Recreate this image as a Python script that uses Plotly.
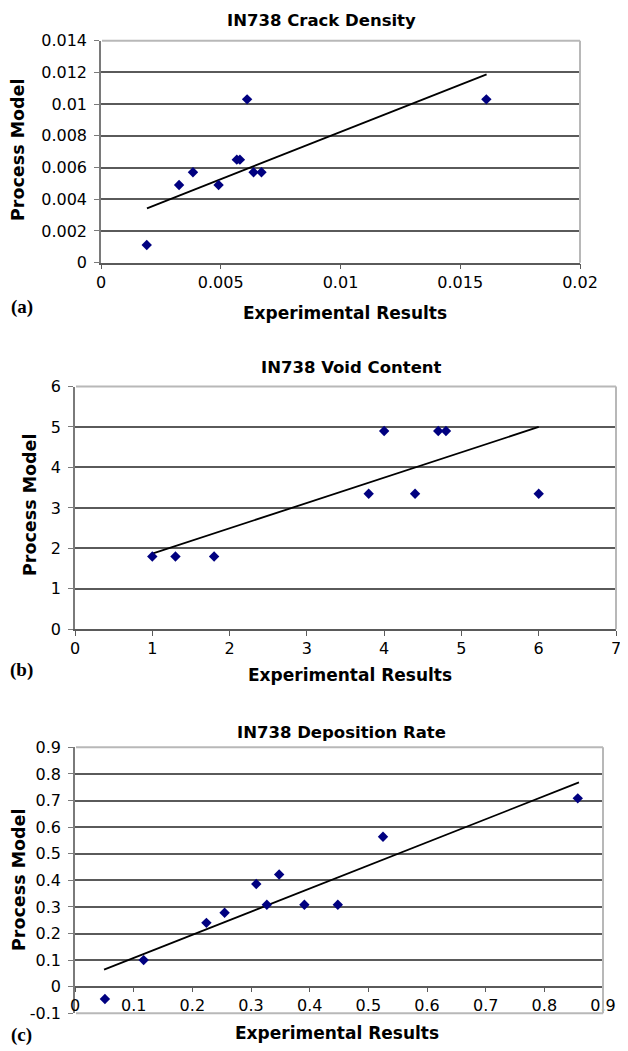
import plotly.graph_objects as go

# ---------------- data ----------------
# (a) IN738 Crack Density
a_exp = [0.00191, 0.00326, 0.00384, 0.00491, 0.00567, 0.0058, 0.0061, 0.00637, 0.0067, 0.01609]
a_model = [0.00112, 0.0049, 0.0057, 0.0049, 0.0065, 0.0065, 0.0103, 0.0057, 0.0057, 0.0103]
a_trend_x = [0.00192, 0.0161]
a_trend_y = [0.00343, 0.01188]
a_xticks = [0, 0.005, 0.01, 0.015, 0.02]
a_xtext = ["0", "0.005", "0.01", "0.015", "0.02"]
a_yticks = [0, 0.002, 0.004, 0.006, 0.008, 0.01, 0.012, 0.014]
a_ytext = ["0", "0.002", "0.004", "0.006", "0.008", "0.01", "0.012", "0.014"]

# (b) IN738 Void Content
b_exp = [1.0, 1.3, 1.8, 3.8, 4.0, 4.4, 4.7, 4.8, 6.0]
b_model = [1.8, 1.8, 1.8, 3.35, 4.9, 3.35, 4.9, 4.9, 3.35]
b_trend_x = [1.0, 6.0]
b_trend_y = [1.87, 5.0]
b_xticks = [0, 1, 2, 3, 4, 5, 6, 7]
b_xtext = ["0", "1", "2", "3", "4", "5", "6", "7"]
b_yticks = [0, 1, 2, 3, 4, 5, 6]
b_ytext = ["0", "1", "2", "3", "4", "5", "6"]

# (c) IN738 Deposition Rate
c_exp = [0.051, 0.117, 0.224, 0.255, 0.309, 0.327, 0.348, 0.391, 0.448, 0.525, 0.857]
c_model = [-0.046, 0.1, 0.24, 0.278, 0.386, 0.308, 0.422, 0.308, 0.308, 0.564, 0.708]
c_trend_x = [0.0495, 0.859]
c_trend_y = [0.064, 0.768]
c_xticks = [0, 0.1, 0.2, 0.3, 0.4, 0.5, 0.6, 0.7, 0.8, 0.9]
c_xtext = ["0", "0.1", "0.2", "0.3", "0.4", "0.5", "0.6", "0.7", "0.8", "0.9"]
c_yticks = [-0.1, 0, 0.1, 0.2, 0.3, 0.4, 0.5, 0.6, 0.7, 0.8, 0.9]
c_ytext = ["-0.1", "0", "0.1", "0.2", "0.3", "0.4", "0.5", "0.6", "0.7", "0.8", "0.9"]

titles = ["IN738 Crack Density", "IN738 Void Content", "IN738 Deposition Rate"]
panel_labels = ["(a)", "(b)", "(c)"]
x_title = "Experimental Results"
y_title = "Process Model"

# ---------------- layout geometry (screen pixels) ----------------
W, H = 628, 1051
OFF = 8  # page body margin in the browser
FONT = "DejaVu Sans, Arial, sans-serif"
MARK = "#000080"
GRID = "#5a5a5a"
AXIS = "#7a7a7a"
BORDER = "#b8b8b8"


def fx(px):
    return (px - OFF) / W


def fy(py):
    return 1 - (py - OFF) / H


panels = [
    dict(x0=101, x1=580, y0=40.7, y1=262.7),
    dict(x0=75, x1=616, y0=386.5, y1=629.3),
    dict(x0=75, x1=603, y0=747.3, y1=1013.3),
]

fig = go.Figure()

datasets = [
    (a_exp, a_model, a_trend_x, a_trend_y),
    (b_exp, b_model, b_trend_x, b_trend_y),
    (c_exp, c_model, c_trend_x, c_trend_y),
]
for i, (ex, mo, tx, ty) in enumerate(datasets):
    sfx = "" if i == 0 else str(i + 1)
    fig.add_trace(go.Scatter(x=tx, y=ty, mode="lines", line=dict(color="black", width=1.8),
                             xaxis="x" + sfx, yaxis="y" + sfx, showlegend=False, hoverinfo="skip"))
    fig.add_trace(go.Scatter(x=ex, y=mo, mode="markers",
                             marker=dict(symbol="diamond", size=8, color=MARK),
                             xaxis="x" + sfx, yaxis="y" + sfx, showlegend=False))

ranges = [
    ([0, 0.02], [0, 0.014], a_xticks, a_xtext, a_yticks, a_ytext),
    ([0, 7], [0, 6], b_xticks, b_xtext, b_yticks, b_ytext),
    ([0, 0.9], [-0.1, 0.9], c_xticks, c_xtext, c_yticks, c_ytext),
]

layout = dict(
    width=W, height=H,
    margin=dict(l=0, r=0, t=0, b=0, autoexpand=False),
    paper_bgcolor="white", plot_bgcolor="white",
    font=dict(family=FONT, color="black"),
    showlegend=False,
)

shapes = []
annotations = []
for i, p in enumerate(panels):
    sfx = "" if i == 0 else str(i + 1)
    xr, yr, xt, xtt, yt, ytt = ranges[i]
    xd = [fx(p["x0"]), fx(p["x1"])]
    yd = [fy(p["y1"]), fy(p["y0"])]
    xa = dict(domain=xd, range=xr, tickvals=xt, ticktext=xtt, showgrid=False, zeroline=False,
              showline=True, linecolor=GRID, linewidth=1.5, ticks="outside", ticklen=5,
              tickcolor=GRID, tickwidth=1.2, tickfont=dict(size=16, family=FONT, color="black"),
              ticklabelstandoff=-1, fixedrange=True)
    ya = dict(domain=yd, range=yr, tickvals=yt, ticktext=ytt, showgrid=True, gridcolor=GRID,
              gridwidth=1.5, zeroline=False, showline=True, linecolor=AXIS, linewidth=1.5,
              ticks="outside", ticklen=5, tickcolor=AXIS, tickwidth=1.2,
              tickfont=dict(size=16, family=FONT, color="black"), ticklabelstandoff=4,
              fixedrange=True)
    if i == 2:
        # horizontal axis crosses the vertical axis at y = 0
        y0_px = p["y1"] - (0 - yr[0]) / (yr[1] - yr[0]) * (p["y1"] - p["y0"])
        xa.update(anchor="free", position=fy(y0_px))
        ya.update(anchor="x3")
    else:
        xa.update(anchor="y" + sfx)
        ya.update(anchor="x" + sfx)
    layout["xaxis" + sfx] = xa
    layout["yaxis" + sfx] = ya

    # light plot-area border (top / right, and bottom for panel c)
    bl = dict(color=BORDER, width=2)
    shapes.append(dict(type="line", xref="paper", yref="paper", x0=fx(p["x0"] + 1), x1=fx(p["x1"]),
                       y0=fy(p["y0"]), y1=fy(p["y0"]), line=bl, layer="above"))
    shapes.append(dict(type="line", xref="paper", yref="paper", x0=fx(p["x1"]), x1=fx(p["x1"]),
                       y0=fy(p["y0"]), y1=fy(p["y1"]), line=bl, layer="above"))
    if i == 2:
        shapes.append(dict(type="line", xref="paper", yref="paper", x0=fx(p["x0"] + 1),
                           x1=fx(p["x1"]), y0=fy(p["y1"]), y1=fy(p["y1"]), line=bl,
                           layer="above"))

# titles, axis titles, panel letters (screen pixel positions)
title_pos = [(321, 21), (351, 367), (341, 732)]
xtitle_pos = [(345, 313), (350, 675), (337, 1033)]
ytitle_pos = [(18, 150), (30, 505), (19, 880)]
letter_pos = [(22, 307), (22, 670), (22, 1035)]
for i in range(3):
    annotations.append(dict(text="<b>" + titles[i] + "</b>", x=fx(title_pos[i][0]),
                            y=fy(title_pos[i][1]), xref="paper", yref="paper", showarrow=False,
                            xanchor="center", yanchor="middle",
                            font=dict(size=16.5, family=FONT, color="black")))
    annotations.append(dict(text="<b>" + x_title + "</b>", x=fx(xtitle_pos[i][0]),
                            y=fy(xtitle_pos[i][1]), xref="paper", yref="paper", showarrow=False,
                            xanchor="center", yanchor="middle",
                            font=dict(size=17, family=FONT, color="black")))
    annotations.append(dict(text="<b>" + y_title + "</b>", x=fx(ytitle_pos[i][0]),
                            y=fy(ytitle_pos[i][1]), xref="paper", yref="paper", showarrow=False,
                            xanchor="center", yanchor="middle", textangle=-90,
                            font=dict(size=17.5, family=FONT, color="black")))
    annotations.append(dict(text="<b>" + panel_labels[i] + "</b>", x=fx(letter_pos[i][0]),
                            y=fy(letter_pos[i][1]), xref="paper", yref="paper", showarrow=False,
                            xanchor="center", yanchor="middle",
                            font=dict(size=19, family="Liberation Serif, Times New Roman, serif",
                                      color="black")))

layout["shapes"] = shapes
layout["annotations"] = annotations
fig.update_layout(**layout)
fig.write_html("out.html")
